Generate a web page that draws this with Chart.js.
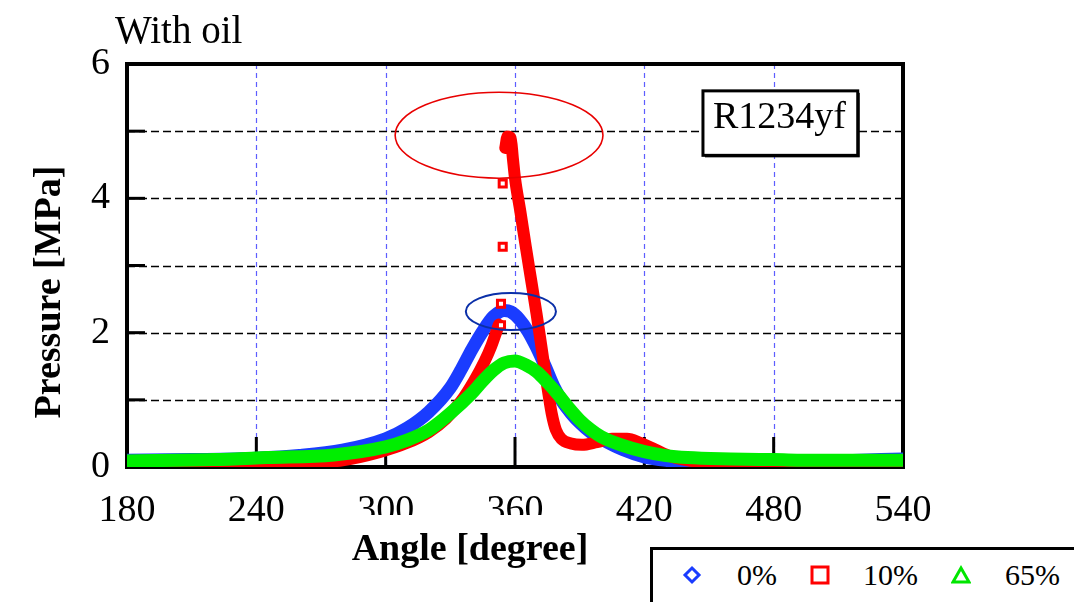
<!DOCTYPE html>
<html lang="en">
<head>
  <meta charset="UTF-8" />
  <script src="https://cdn.jsdelivr.net/npm/chart.js"></script>
  <title>With oil - R1234yf</title>
  <style>
    body { margin: 0; background: #fff; overflow: hidden; }
    #wrap { position: relative; width: 1074px; height: 602px; overflow: hidden; background: #fff; }
    #legend {
      position: absolute; left: 650px; top: 547px; width: 460px; height: 70px;
      border: 3px solid #000; background: #fff;
      font-family: 'Liberation Serif', 'Times New Roman', serif; font-size: 30px; line-height: 30px; color: #000;
    }
    #legend span, #legend svg { position: absolute; }
  </style>
</head>
<body>
  <div id="wrap">
    <canvas id="chart" width="1074" height="602"></canvas>

    <!-- legend box, cut off by the bottom/right edge like the original -->
    <div id="legend">
      <svg style="left:29px;top:15px" width="20" height="20"><path d="M10 3 L17 10 L10 17 L3 10 Z" fill="#fff" stroke="#1a3cff" stroke-width="3"/></svg>
      <span style="left:84px;top:10px">0%</span>
      <svg style="left:157px;top:15px" width="20" height="20"><rect x="2" y="2" width="16" height="16" fill="#fff" stroke="#ff0000" stroke-width="3"/></svg>
      <span style="left:210px;top:10px">10%</span>
      <svg style="left:298px;top:15px" width="20" height="20"><path d="M10 3 L18 17 L2 17 Z" fill="#fff" stroke="#00e600" stroke-width="3"/></svg>
      <span style="left:352px;top:10px">65%</span>
    </div>
  </div>

  <script>
    // ---- data ----
    const xTicks = [180, 240, 300, 360, 420, 480, 540];
    const yGrid = [1, 2, 3, 4, 5];

    // 0% oil (blue)
    const angle0 = [180, 210, 240, 260, 280, 300, 310, 320, 330, 335, 340, 345, 350, 355, 358, 362, 366, 370,
      374, 378, 382, 386, 390, 395, 400, 410, 420, 430, 440, 460, 480, 500, 520, 540];
    const p0 = [0.1, 0.11, 0.13, 0.17, 0.25, 0.42, 0.58, 0.82, 1.18, 1.45, 1.75, 2.02, 2.24, 2.33, 2.31, 2.2, 2.02, 1.78,
      1.5, 1.2, 0.97, 0.8, 0.66, 0.52, 0.42, 0.26, 0.15, 0.1, 0.08, 0.06, 0.07, 0.08, 0.1, 0.12];

    // 10% oil (red) - null = break in the band before the spike
    const angle10 = [180, 220, 260, 280, 297, 310, 320, 328, 335, 341, 346, 349, 351, 352.5, 354, 355.5, 356.5, 358,
      359, 360, 362.5, 365, 367.5, 370, 372.3, 374.6, 377, 379, 381.5, 386, 391, 398, 405, 412, 418, 425, 432, 440,
      460, 480, 500, 540];
    const p10 = [0.03, 0.03, 0.05, 0.1, 0.22, 0.36, 0.52, 0.72, 0.98, 1.28, 1.58, 1.8, 1.98, 2.12, null, 4.75, 4.92, 4.9,
      4.6, 4.3, 3.8, 3.28, 2.78, 2.28, 1.78, 1.28, 0.8, 0.55, 0.42, 0.35, 0.33, 0.37, 0.42, 0.42, 0.36, 0.26, 0.16, 0.1,
      0.05, 0.03, 0.03, 0.05];
    // isolated 10% squares on the rising side
    const angle10pts = [353.5, 353.5, 354.3, 354.3];
    const p10pts = [2.11, 2.43, 3.28, 4.22];

    // 65% oil (green)
    const angle65 = [180, 220, 245, 276, 300, 310, 320, 330, 340, 345, 350, 355, 360, 365, 370, 375, 380, 385, 390,
      395, 400, 410, 420, 430, 440, 460, 480, 500, 540];
    const p65 = [0.09, 0.11, 0.14, 0.18, 0.3, 0.4, 0.55, 0.8, 1.1, 1.28, 1.44, 1.55, 1.58, 1.52, 1.42, 1.26, 1.08, 0.88,
      0.7, 0.56, 0.45, 0.32, 0.23, 0.17, 0.14, 0.12, 0.11, 0.1, 0.1];

    const seriesLabels = ['0%', '10%', '65%'];

    const SERIF = "'Liberation Serif', 'Times New Roman', serif";
    const pts = (xs, ys) => xs.map((v, i) => ({ x: v, y: ys[i] }));

    // grid, frame, inner ticks, annotations, titles
    const decor = {
      id: 'decor',
      beforeDatasetsDraw(chart) {
        const { ctx, chartArea: a, scales: { x, y } } = chart;
        ctx.save();
        // vertical blue dashed grid
        ctx.strokeStyle = '#5d5dff';
        ctx.lineWidth = 1.2;
        ctx.setLineDash([5, 4]);
        xTicks.slice(1, -1).forEach(v => {
          const px = Math.round(x.getPixelForValue(v)) + 0.5;
          ctx.beginPath(); ctx.moveTo(px, a.top); ctx.lineTo(px, a.bottom); ctx.stroke();
        });
        // horizontal black dashed grid
        ctx.strokeStyle = '#000';
        ctx.lineWidth = 1.7;
        ctx.setLineDash([8, 4]);
        yGrid.forEach(v => {
          const py = Math.round(y.getPixelForValue(v)) + 0.5;
          ctx.beginPath(); ctx.moveTo(a.left, py); ctx.lineTo(a.right, py); ctx.stroke();
        });
        ctx.setLineDash([]);
        // inner tick marks
        ctx.lineWidth = 3;
        xTicks.slice(1, -1).forEach(v => {
          const px = x.getPixelForValue(v);
          ctx.beginPath(); ctx.moveTo(px, a.bottom); ctx.lineTo(px, a.bottom - 30); ctx.stroke();
        });
        yGrid.forEach(v => {
          const py = y.getPixelForValue(v);
          ctx.beginPath(); ctx.moveTo(a.left, py); ctx.lineTo(a.left + 18, py); ctx.stroke();
        });
        // frame
        ctx.lineWidth = 4;
        ctx.strokeRect(a.left, a.top, a.width, a.height);
        ctx.restore();
      },
      afterDraw(chart) {
        const { ctx, scales: { x, y } } = chart;
        ctx.save();

        // ellipses marking the peaks
        const ell = (cx, cy, dx, dy, color, lw) => {
          const px = x.getPixelForValue(cx), py = y.getPixelForValue(cy);
          const rx = x.getPixelForValue(cx + dx) - px, ry = py - y.getPixelForValue(cy + dy);
          ctx.strokeStyle = color; ctx.lineWidth = lw;
          ctx.beginPath(); ctx.ellipse(px, py, rx, ry, 0, 0, Math.PI * 2); ctx.stroke();
        };
        ell(352.6, 4.94, 48.2, 0.64, '#e80000', 1.6);
        ell(358.1, 2.315, 20.9, 0.275, '#0a2fa8', 2);

        // R1234yf label box
        const bx1 = x.getPixelForValue(447.2), bx2 = x.getPixelForValue(519);
        const by1 = y.getPixelForValue(5.6), by2 = y.getPixelForValue(4.64);
        ctx.fillStyle = '#000';
        ctx.fillRect(bx1 + 2, by1 + 2, bx2 - bx1, by2 - by1);
        ctx.fillStyle = '#fff';
        ctx.fillRect(bx1, by1, bx2 - bx1, by2 - by1);
        ctx.strokeStyle = '#000'; ctx.lineWidth = 3;
        ctx.strokeRect(bx1, by1, bx2 - bx1, by2 - by1);
        ctx.fillStyle = '#000';
        ctx.font = '38px ' + SERIF;
        ctx.textAlign = 'left'; ctx.textBaseline = 'alphabetic';
        ctx.fillText('R1234yf', bx1 + 10, by1 + 37);

        // chart title
        ctx.font = '39px ' + SERIF;
        ctx.fillText('With oil', 115, 43);

        // x axis title (its white box hides the lower half of 300 / 360)
        ctx.fillStyle = '#fff';
        ctx.fillRect(348, 515, 246, 80);
        ctx.fillStyle = '#000';
        ctx.font = 'bold 38px ' + SERIF;
        ctx.textAlign = 'center';
        ctx.fillText('Angle [degree]', 470, 560);

        // y axis title
        ctx.translate(50, 292);
        ctx.rotate(-Math.PI / 2);
        ctx.textBaseline = 'middle';
        ctx.fillText('Pressure [MPa]', 0, 0);
        ctx.restore();
      }
    };

    const band = (label, xs, ys, color, width, order) => ({
      label, data: pts(xs, ys), borderColor: color, backgroundColor: color,
      borderWidth: width, pointRadius: 0, cubicInterpolationMode: 'monotone',
      borderCapStyle: 'round', borderJoinStyle: 'round', spanGaps: false, order
    });

    new Chart(document.getElementById('chart'), {
      type: 'line',
      data: {
        datasets: [
          band(seriesLabels[2], angle65, p65, '#00ee00', 13, 1),
          {
            label: seriesLabels[1] + ' points', data: pts(angle10pts, p10pts), showLine: false,
            pointStyle: 'rect', pointRadius: 5, pointBorderWidth: 3,
            pointBorderColor: '#ff0000', pointBackgroundColor: '#fff', order: 2
          },
          band(seriesLabels[1], angle10, p10, '#ff0000', 12, 3),
          band(seriesLabels[0], angle0, p0, '#1a3cff', 13, 4)
        ]
      },
      options: {
        responsive: false,
        animation: false,
        layout: { padding: { left: 0, top: 64, right: 171, bottom: 0 } },
        plugins: { legend: { display: false }, tooltip: { enabled: false } },
        scales: {
          x: {
            type: 'linear', min: 180, max: 540,
            afterBuildTicks: s => { s.ticks = xTicks.map(v => ({ value: v })); },
            afterFit: s => { s.height = 135; },
            grid: { display: false, drawTicks: false },
            border: { display: false },
            ticks: { autoSkip: false, maxRotation: 0, padding: 21, color: '#000', font: { family: SERIF, size: 38 } }
          },
          y: {
            min: 0, max: 6,
            afterFit: s => { s.width = 127; },
            grid: { display: false, drawTicks: false },
            border: { display: false },
            ticks: { stepSize: 2, padding: 17, color: '#000', font: { family: SERIF, size: 38 } }
          }
        }
      },
      plugins: [decor]
    });
  </script>
</body>
</html>
